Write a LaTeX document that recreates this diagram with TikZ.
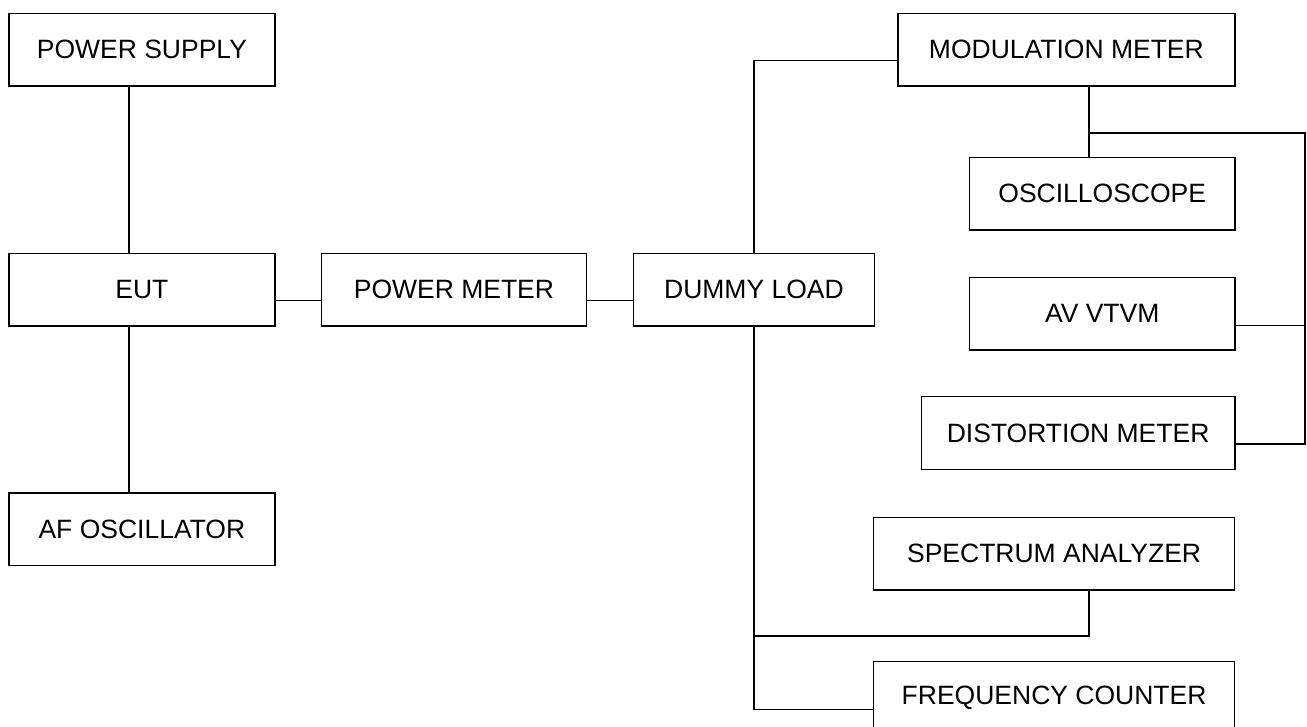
\documentclass[tikz,border=0pt]{standalone}
\usepackage{fontspec}
\setmainfont{Liberation Sans}
\tikzset{
  blocco/.style={draw, black, line width=1.2pt, inner sep=0pt, anchor=north west,
    minimum height=72.6pt, font=\fontsize{26.5}{30}\selectfont},
  filo/.style={black, line width=1.2pt}
}
\begin{document}
\begin{tikzpicture}[x=1pt, y=-1pt]
        \useasboundingbox (0,0) rectangle (1307,726);

         % Disegna i blocchi
        \node[blocco, minimum width=266pt] (ps) at (8.3,12.7) {POWER SUPPLY};
        \node[blocco, minimum width=266pt] (eut) at (8.3,252.7) {EUT};
        \node[blocco, minimum width=266pt] (afo) at (8.3,492.3) {AF OSCILLATOR};
        \node[blocco, minimum width=264.7pt] (pm) at (321,252.7) {POWER METER};
        \node[blocco, minimum width=241.3pt] (dl) at (632.7,252.7) {DUMMY LOAD};
        \node[blocco, minimum width=337pt] (mm) at (897.3,12.7) {MODULATION METER};
        \node[blocco, minimum width=265.3pt] (osc) at (969,156.7) {OSCILLOSCOPE};
        \node[blocco, minimum width=265.3pt] (avv) at (969,276.7) {AV VTVM};
        \node[blocco, minimum width=313.6pt] (dm) at (920.7,396) {DISTORTION METER};
        \node[blocco, minimum width=361pt] (sa) at (873,516.7) {SPECTRUM ANALYZER};
        \node[blocco, minimum width=361pt] (fc) at (873,661) {FREQUENCY COUNTER};

         % Punti di riferimento
        \coordinate (xps) at (129,0);
        \coordinate (xmod) at (1089,0);
        \coordinate (jmod) at (1089,133);
        \coordinate (bus) at (1305,133);
        \coordinate (yspec) at (0,636);

         % Collegamenti
        \draw[filo] (ps.south -| xps) -- (eut.north -| xps);
        \draw[filo] (eut.south -| xps) -- (afo.north -| xps);
        \draw[filo] ([yshift=-11pt]eut.east) -- ([yshift=-11pt]pm.west);
        \draw[filo] ([yshift=-11pt]pm.east) -- ([yshift=-11pt]dl.west);
        \draw[filo] (dl.north) |- ([yshift=-11pt]mm.west);
        \draw[filo] (mm.south -| xmod) -- (osc.north -| xmod);
        \draw[filo] (jmod) -- (bus) |- ([yshift=-11pt]dm.east);
        \draw[filo] ([yshift=-12pt]avv.east) -- ([yshift=-12pt]avv.east -| bus);
        \draw[filo] (dl.south) |- ([yshift=-11.5pt]fc.west);
        \draw[filo] (sa.south -| xmod) |- (dl.south |- yspec);
    \end{tikzpicture}
\end{document}
